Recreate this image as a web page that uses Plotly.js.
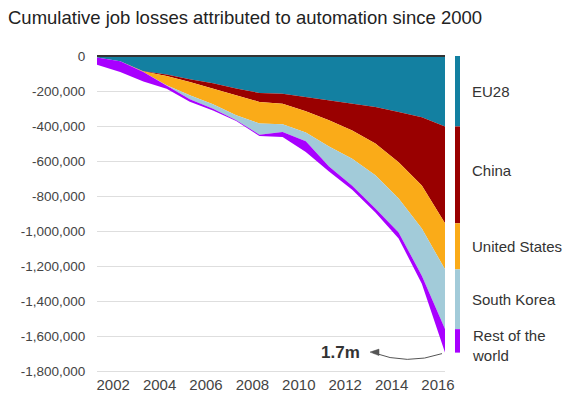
<!DOCTYPE html>
<html>
<head>
<meta charset="utf-8">
<script src="https://cdn.plot.ly/plotly-3.0.1.min.js"></script>
<style>
  html, body { margin: 0; padding: 0; background: #ffffff; }
  #chart { width: 571px; height: 398px; }
</style>
</head>
<body>
<div id="chart"></div>
<script>
// ---- data ----
const years = [2001, 2002, 2003, 2004, 2005, 2006, 2007, 2008, 2009, 2010, 2011, 2012, 2013, 2014, 2015, 2016];
const seriesNames = ["EU28", "China", "United States", "South Korea", "Rest of the<br>world"];
const eu28  = [-9000, -30000, -87000, -106000, -133000, -156000, -186000, -211000, -215000, -234000, -256000, -272000, -291000, -320000, -350000, -402000];
const china = [0, 0, -2000, -8000, -15000, -29000, -38000, -51000, -57000, -82000, -111000, -153000, -209000, -287000, -389000, -553000];
const usa   = [0, 0, -2000, -53000, -76000, -91000, -114000, -123000, -118000, -120000, -149000, -162000, -181000, -206000, -246000, -263000];
const korea = [0, 0, 0, 0, -23000, -25000, -29000, -64000, -44000, -51000, -114000, -153000, -189000, -194000, -269000, -341000];
const rest  = [-41000, -61000, -54000, -20000, -14000, -10000, -4000, -7000, -29000, -61000, -29000, -23000, -23000, -34000, -46000, -134000];
const xTicks = [2002, 2004, 2006, 2008, 2010, 2012, 2014, 2016];
const xTickLabels = ["2002", "2004", "2006", "2008", "2010", "2012", "2014", "2016"];
const yTicks = [0, -200000, -400000, -600000, -800000, -1000000, -1200000, -1400000, -1600000, -1800000];
const yTickLabels = ["0", "-200,000", "-400,000", "-600,000", "-800,000", "-1,000,000", "-1,200,000", "-1,400,000", "-1,600,000", "-1,800,000"];

// ---- styling ----
const FONT = '"Liberation Sans", Arial, Helvetica, sans-serif';
const colors = ["#1380A1", "#990000", "#FAAB18", "#A2CBD9", "#A800FF"];
const allSeries = [eu28, china, usa, korea, rest];
const yRange = [-1815000, 0];

const traces = [];
allSeries.forEach((vals, i) => {
  traces.push({
    type: "scatter",
    mode: "lines",
    x: years,
    y: vals,
    stackgroup: "jobs",
    line: { width: 0, color: colors[i] },
    fillcolor: colors[i],
    hoverinfo: "skip",
    showlegend: false
  });
});

// legend bar: final values stacked, on a narrow side axis
allSeries.forEach((vals, i) => {
  traces.push({
    type: "bar",
    x: [0],
    y: [vals[vals.length - 1]],
    xaxis: "x2",
    yaxis: "y2",
    width: 1,
    marker: { color: colors[i], line: { width: 0 } },
    hoverinfo: "skip",
    showlegend: false
  });
});

// legend label annotations at the middle of each bar segment
const annotations = [];
let cum = 0;
allSeries.forEach((vals, i) => {
  const v = vals[vals.length - 1];
  const mid = cum + v / 2;
  cum += v;
  annotations.push({
    xref: "paper", yref: "y",
    x: 1.0136, y: mid,
    xanchor: "left", yanchor: "middle",
    text: seriesNames[i],
    showarrow: false,
    align: "left",
    yshift: i === 4 ? -5 : (i === 1 ? 4 : 0),
    font: { family: FONT, size: 15, color: "#333" }
  });
});

const total = cum;
const lastYear = years[years.length - 1];
annotations.push({
  xref: "x", yref: "y",
  x: lastYear, y: total,
  xshift: -105,
  xanchor: "center", yanchor: "middle",
  text: "<b>" + (Math.abs(total) / 1e6).toFixed(1) + "m</b>",
  showarrow: false,
  font: { family: FONT, size: 17, color: "#333" }
});

// curved pointer from the end of the stack to the label (pixel offsets anchored at the data point)
const shapes = [
  {
    type: "path",
    xref: "x", yref: "y",
    xsizemode: "pixel", ysizemode: "pixel",
    xanchor: lastYear, yanchor: total,
    path: "M -3 -1 Q -38 -13 -72 0",
    line: { color: "#555", width: 1 },
    layer: "above"
  },
  {
    type: "path",
    xref: "x", yref: "y",
    xsizemode: "pixel", ysizemode: "pixel",
    xanchor: lastYear, yanchor: total,
    path: "M -66 3.5 L -75 0.5 L -66 -3 Z",
    fillcolor: "#555",
    line: { color: "#555", width: 0.5 },
    layer: "above"
  }
];

const layout = {
  width: 571,
  height: 398,
  margin: { l: 97, r: 106, t: 55.7, b: 23.7, pad: 0 },
  paper_bgcolor: "#ffffff",
  plot_bgcolor: "#ffffff",
  showlegend: false,
  barmode: "relative",
  title: {
    text: "Cumulative job losses attributed to automation since 2000",
    x: 8 / 571, xref: "container", xanchor: "left",
    y: 1 - 18 / 398, yref: "container", yanchor: "middle",
    font: { family: FONT, size: 18.5, color: "#222" }
  },
  xaxis: {
    domain: [0, 0.9457],
    range: [years[0], lastYear],
    tickvals: xTicks,
    ticktext: xTickLabels,
    ticklabelshift: -7,
    ticklabelstandoff: 0,
    showgrid: false,
    zeroline: false,
    showline: false,
    ticks: "",
    tickfont: { family: FONT, size: 15, color: "#444" },
    fixedrange: true
  },
  yaxis: {
    range: yRange,
    tickvals: yTicks,
    ticktext: yTickLabels,
    showgrid: true,
    gridcolor: "#dedede",
    gridwidth: 1,
    zeroline: true,
    zerolinecolor: "#333",
    zerolinewidth: 2,
    zerolinelayer: "above traces",
    showline: false,
    ticks: "outside",
    ticklen: 8,
    tickcolor: "rgba(0,0,0,0)",
    tickfont: { family: FONT, size: 13.5, color: "#444" },
    fixedrange: true
  },
  xaxis2: {
    domain: [0.9728, 0.9864],
    range: [-0.5, 0.5],
    anchor: "y2",
    visible: false,
    fixedrange: true
  },
  yaxis2: {
    range: yRange,
    anchor: "x2",
    visible: false,
    showgrid: false,
    zeroline: false,
    fixedrange: true
  },
  shapes: shapes,
  annotations: annotations
};

Plotly.newPlot("chart", traces, layout, { displayModeBar: false, staticPlot: true });
</script>
</body>
</html>
